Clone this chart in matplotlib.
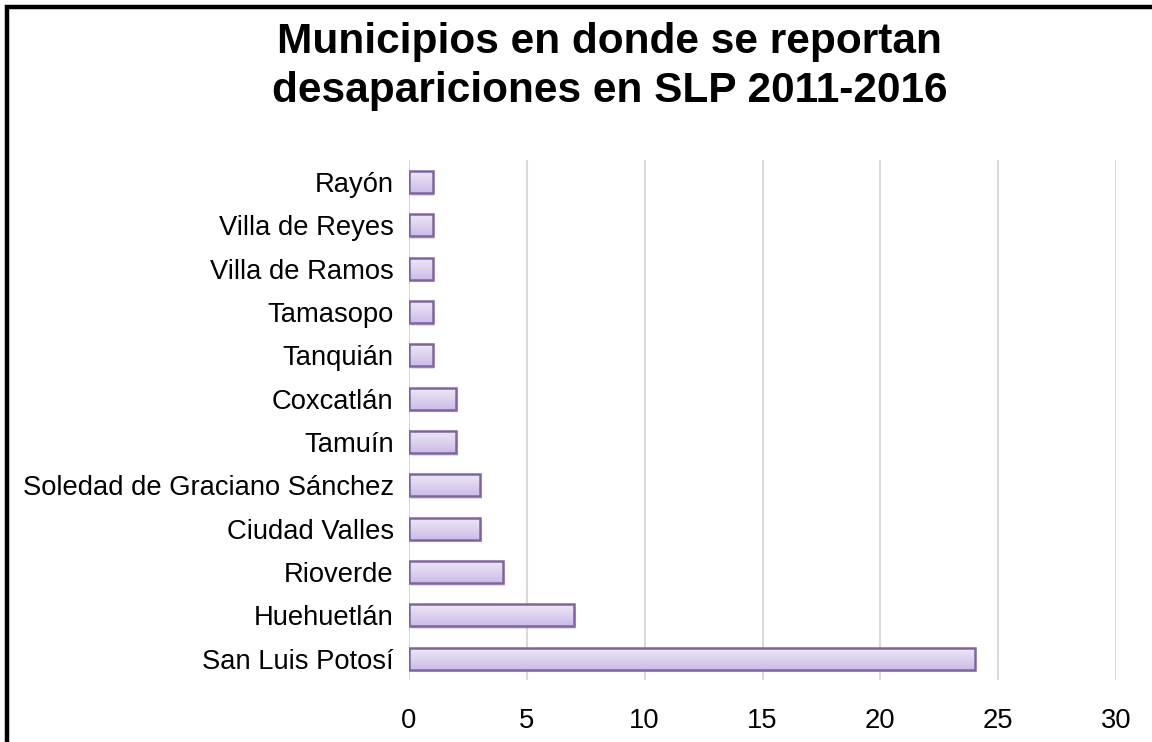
import numpy as np
import matplotlib.pyplot as plt
from matplotlib.colors import LinearSegmentedColormap
from matplotlib.lines import Line2D

plt.rcParams['font.family'] = ['Liberation Sans', 'DejaVu Sans']

municipios = ['San Luis Potosí', 'Huehuetlán', 'Rioverde', 'Ciudad Valles',
              'Soledad de Graciano Sánchez', 'Tamuín', 'Coxcatlán', 'Tanquián',
              'Tamasopo', 'Villa de Ramos', 'Villa de Reyes', 'Rayón']
casos = [24, 7, 4, 3, 3, 2, 2, 1, 1, 1, 1, 1]
ticks_x = [0, 5, 10, 15, 20, 25, 30]

fig = plt.figure(figsize=(11.52, 7.42), dpi=100)
ax = fig.add_axes([409 / 1152, 0.083, 707 / 1152, 0.701])

y = np.arange(len(municipios))
alto = 0.51

# sombra
ax.barh(y - 0.06, casos, height=alto, left=0.08, color='#000000', alpha=0.12,
        zorder=2, linewidth=0)
barras = ax.barh(y, casos, height=alto, color='none', edgecolor='#8064a2',
                 linewidth=1.8, zorder=4)

cmap = LinearSegmentedColormap.from_list('lila', ['#cbbce6', '#efeaf8'])
grad = np.linspace(0, 1, 100).reshape(-1, 1)
for b in barras:
    x0, y0 = b.get_x(), b.get_y()
    im = ax.imshow(grad, cmap=cmap, aspect='auto', origin='lower',
                   extent=[x0, x0 + b.get_width(), y0, y0 + b.get_height()],
                   zorder=3)
    im.set_clip_path(b)

ax.set_xlim(0, 30)
ax.set_ylim(-0.5, len(municipios) - 0.5)
ax.set_xticks(ticks_x)
ax.set_yticks(y)
ax.set_yticklabels(municipios)
ax.tick_params(length=0, labelsize=19.7, colors='black')
ax.tick_params(axis='x', pad=20)
ax.tick_params(axis='y', pad=11)
ax.grid(axis='x', color='#d9d9d9', linewidth=1.5, zorder=0)
ax.set_axisbelow(True)
for s in ax.spines.values():
    s.set_visible(False)

fig.text(0.529, 0.91, 'Municipios en donde se reportan\ndesapariciones en SLP 2011-2016',
         ha='center', va='center', fontsize=30.5, fontweight='bold', linespacing=1.3)

# marco
xb = 7 / 1152
yb = 1 - 7 / 742
fig.add_artist(Line2D([xb, xb, 1.0], [0.0, yb, yb], transform=fig.transFigure,
                      color='black', linewidth=3.2, solid_joinstyle='miter'))

fig.savefig('out.png', dpi=100)
